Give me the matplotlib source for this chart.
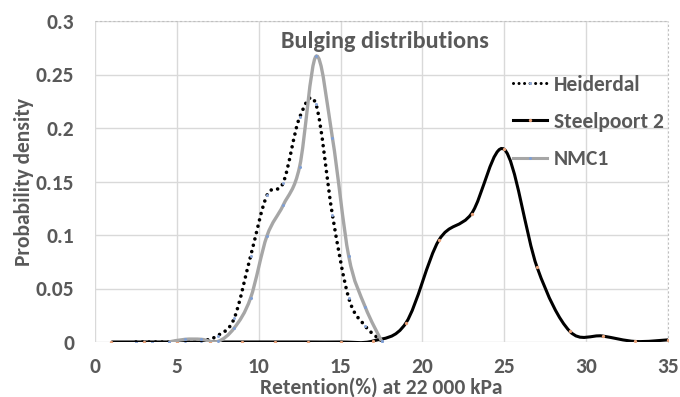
import numpy as np
import matplotlib
matplotlib.use("Agg")
import matplotlib.pyplot as plt
from matplotlib.path import Path
from matplotlib.patches import PathPatch
from matplotlib.lines import Line2D

# Retention (%) sample points
heiderdal_x = [2.5, 3.5, 4.5, 5.5, 6.5, 7.5, 8.5, 9.5, 10.5, 11.5, 12.5, 13.5, 14.5, 15.5, 16.5, 17.5]
heiderdal_y = [0.0, 0.0, 0.0, 0.001, 0.001, 0.006, 0.022, 0.080, 0.137, 0.149, 0.210, 0.222, 0.119, 0.041, 0.015, 0.001]

steelpoort_x = [1, 3, 5, 7, 9, 11, 13, 15, 17, 19, 21, 23, 25, 27, 29, 31, 33, 35]
steelpoort_y = [0.0, 0.0, 0.0, 0.0, 0.0, 0.0, 0.0, 0.0, 0.001, 0.018, 0.095, 0.120, 0.180, 0.070, 0.010, 0.0056, 0.0005, 0.002]

nmc1_x = [4.5, 5.5, 6.5, 7.5, 8.5, 9.5, 10.5, 11.5, 12.5, 13.5, 14.5, 15.5, 16.5, 17.5]
nmc1_y = [0.0, 0.0025, 0.0025, 0.0005, 0.013, 0.041, 0.099, 0.128, 0.164, 0.267, 0.191, 0.080, 0.033, 0.001]

series_names = ["Heiderdal", "Steelpoort 2", "NMC1"]
x_ticks = [0, 5, 10, 15, 20, 25, 30, 35]
y_ticks = [0, 0.05, 0.1, 0.15, 0.2, 0.25, 0.3]
y_tick_labels = ["0", "0.05", "0.1", "0.15", "0.2", "0.25", "0.3"]

TEXT = "#595959"
GRID = "#d9d9d9"
FONT = "Carlito"
FS = 15.5
TICK_FS = 15.5


def smooth_path(xs, ys, k=1.0 / 6.0):
    """Cubic Bezier path through the points (cardinal spline)."""
    p = np.column_stack([xs, ys]).astype(float)
    n = len(p)
    verts = [tuple(p[0])]
    codes = [Path.MOVETO]
    for i in range(n - 1):
        p0 = p[i - 1] if i > 0 else p[i]
        p1 = p[i]
        p2 = p[i + 1]
        p3 = p[i + 2] if i + 2 < n else p[i + 1]
        c1 = p1 + (p2 - p0) * k
        c2 = p2 - (p3 - p1) * k
        verts += [tuple(c1), tuple(c2), tuple(p2)]
        codes += [Path.CURVE4] * 3
    return Path(verts, codes)


fig = plt.figure(figsize=(6.8, 3.97), dpi=100)
ax = fig.add_axes([95 / 680, 1 - 342 / 397, 573 / 680, 321 / 397])
ax.set_xlim(0, 35)
ax.set_ylim(0, 0.3)

# grid
for xv in x_ticks:
    ax.axvline(xv, color=GRID, lw=1.0, zorder=0)
for yv in y_ticks:
    ax.axhline(yv, color=GRID, lw=1.0, zorder=0)
for s in ax.spines.values():
    s.set_visible(False)
ax.plot([0, 35], [0.3, 0.3], color="#bfbfbf", lw=0.8, ls=(0, (2, 2)), zorder=0.5, clip_on=False)
ax.plot([35, 35], [0, 0.3], color="#bfbfbf", lw=0.8, ls=(0, (2, 2)), zorder=0.5, clip_on=False)

# Heiderdal: round-dot black
p_h = PathPatch(smooth_path(heiderdal_x, heiderdal_y), fill=False, edgecolor="black",
                lw=2.6, linestyle=(0, (0.01, 1.8)), zorder=2)
p_h.set_capstyle("round")
ax.add_patch(p_h)
ax.plot(heiderdal_x, heiderdal_y, ls="none", marker="o", ms=2.2, mfc="#8fa9d8", mec="none", zorder=2.1)

# Steelpoort 2: solid black
p_s = PathPatch(smooth_path(steelpoort_x, steelpoort_y), fill=False, edgecolor="black",
                lw=2.2, zorder=3)
ax.add_patch(p_s)
ax.plot(steelpoort_x, steelpoort_y, ls="none", marker="o", ms=2.4, mfc="#e8a27a", mec="none", zorder=3.1)

# NMC1: solid grey
p_n = PathPatch(smooth_path(nmc1_x, nmc1_y), fill=False, edgecolor="#a6a6a6",
                lw=2.4, zorder=4)
ax.add_patch(p_n)
ax.plot(nmc1_x, nmc1_y, ls="none", marker="o", ms=2.2, mfc="#7f9fd4", mec="none", zorder=4.1)

# ticks
ax.set_xticks(x_ticks)
ax.set_xticklabels([str(v) for v in x_ticks])
ax.set_yticks(y_ticks)
ax.set_yticklabels(y_tick_labels)
ax.tick_params(length=0, labelsize=TICK_FS, labelcolor=TEXT)
ax.tick_params(axis="x", pad=11)
ax.tick_params(axis="y", pad=15)
for lab in ax.get_xticklabels() + ax.get_yticklabels():
    lab.set_fontfamily(FONT)
    lab.set_fontweight("bold")

fig.text(0.5 * (95 + 668) / 680, 3 / 397, "Retention(%) at 22 000 kPa", fontsize=FS,
         fontweight="bold", color=TEXT, fontfamily=FONT, ha="center", va="baseline")
ax.set_ylabel("Probability density", fontsize=FS, fontweight="bold",
              color=TEXT, fontfamily=FONT, labelpad=1)

ax.text(0.506, 0.935, "Bulging distributions", transform=ax.transAxes,
        ha="center", va="center", fontsize=17.5, fontweight="bold",
        color=TEXT, fontfamily=FONT)

handles = [
    Line2D([], [], color="black", lw=2.2, ls=(0, (0.01, 1.8)), dash_capstyle="round",
           marker="o", ms=2.2, mfc="#8fa9d8", mec="none"),
    Line2D([], [], color="black", lw=2.2, marker="o", ms=2.4, mfc="#e8a27a", mec="none"),
    Line2D([], [], color="#a6a6a6", lw=2.2, marker="o", ms=2.2, mfc="#7f9fd4", mec="none"),
]
leg = ax.legend(handles, series_names, loc="upper left", bbox_to_anchor=(0.7295, 0.833),
                frameon=False, borderpad=0, borderaxespad=0, handlelength=1.6,
                handletextpad=0.3, labelspacing=0.8, numpoints=1,
                prop={"family": FONT, "weight": "bold", "size": FS})
for t in leg.get_texts():
    t.set_color(TEXT)

fig.savefig("out.png", dpi=100)
